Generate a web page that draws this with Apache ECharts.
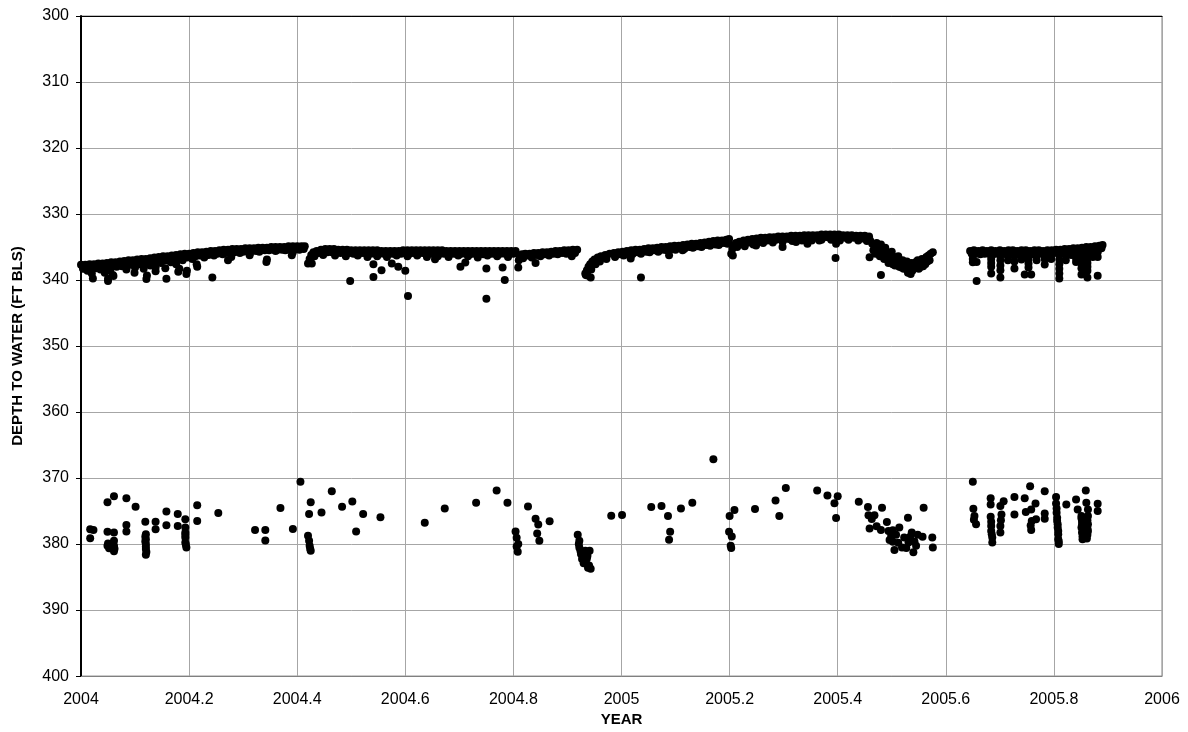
<!DOCTYPE html>
<html>
<head>
<meta charset="utf-8">
<script src="https://cdn.jsdelivr.net/npm/echarts@6/dist/echarts.min.js"></script>
<style>html,body{margin:0;padding:0;background:#fff}#c{width:1188px;height:732px}</style>
</head>
<body>
<div id="c"></div>
<script>
// Upper band (main water level trace), [year, depth ft bls]
const upperSeg2004a = [
[2004.000,337.7],[2004.008,337.7],[2004.016,337.6],[2004.024,337.6],[2004.032,337.5],[2004.040,337.5],[2004.048,337.4],[2004.056,337.3],[2004.064,337.3],[2004.072,337.2],[2004.080,337.1],[2004.088,337.0],[2004.096,337.0],[2004.104,336.9],[2004.112,336.8],[2004.120,336.8],[2004.128,336.7],[2004.136,336.6],[2004.144,336.5],[2004.152,336.4],[2004.160,336.4],[2004.168,336.3],[2004.176,336.2],[2004.184,336.1],[2004.192,336.0],[2004.200,336.0],[2004.208,335.9],[2004.216,335.8],[2004.224,335.8],[2004.232,335.7],[2004.240,335.6],[2004.248,335.6],[2004.256,335.5],[2004.264,335.4],[2004.272,335.4],[2004.280,335.3],[2004.288,335.3],[2004.296,335.3],[2004.304,335.2],[2004.312,335.2],[2004.320,335.2],[2004.328,335.1],[2004.336,335.1],[2004.344,335.1],[2004.352,335.0],[2004.360,335.0],[2004.368,335.0],[2004.376,335.0],[2004.384,334.9],[2004.392,334.9],[2004.400,334.9],[2004.408,334.9],[2004.414,334.9],
[2004.004,338.2],[2004.012,338.1],[2004.020,338.2],[2004.028,338.0],[2004.036,337.9],[2004.044,338.0],[2004.052,337.8],[2004.060,337.9],[2004.068,337.7],[2004.076,337.6],[2004.084,337.7],[2004.092,337.5],[2004.100,337.5],[2004.108,337.4],[2004.116,337.4],[2004.124,337.5],[2004.132,337.2],[2004.140,337.1],[2004.148,337.0],[2004.156,337.0],[2004.164,336.9],[2004.172,336.8],[2004.180,336.8],[2004.188,336.6],[2004.196,336.6],[2004.204,336.5],[2004.212,336.4],[2004.220,336.3],[2004.228,336.2],[2004.236,336.2],[2004.244,336.1],[2004.252,336.0],[2004.260,335.9],[2004.268,335.9],[2004.276,335.8],[2004.284,335.8],[2004.292,335.7],[2004.300,335.7],[2004.308,335.6],[2004.316,335.6],[2004.324,335.6],[2004.332,335.5],[2004.340,335.5],[2004.348,335.5],[2004.356,335.4],[2004.364,335.4],[2004.372,335.4],[2004.380,335.4],[2004.388,335.3],[2004.396,335.3],[2004.404,335.3],[2004.412,335.3],
[2004.004,338.3],[2004.012,338.6],[2004.020,339.0],[2004.028,338.2],[2004.036,338.4],[2004.044,338.9],[2004.050,339.8],[2004.054,338.6],[2004.060,339.4],[2004.066,338.0],[2004.076,337.9],[2004.084,338.4],[2004.092,337.7],[2004.100,338.1],[2004.108,337.6],[2004.116,338.3],[2004.122,339.3],[2004.128,337.8],[2004.138,338.1],[2004.148,337.4],[2004.156,338.2],[2004.166,337.3],[2004.176,337.6],[2004.182,338.3],[2004.188,337.0],[2004.196,338.6],[2004.206,336.8],[2004.214,337.6],[2004.228,336.6],[2004.246,336.3],[2004.262,336.1],[2004.278,336.5],[2004.294,335.9],[2004.312,336.0],[2004.330,335.7],[2004.344,336.9],[2004.360,335.6],[2004.378,335.5],[2004.392,335.8],[2004.404,335.4],
[2004.022,339.75],[2004.050,340.15],[2004.059,339.25],[2004.099,338.9],[2004.121,339.85],[2004.138,338.65],[2004.158,339.8],[2004.180,338.75],[2004.195,339.1],[2004.215,338.0],[2004.243,339.6],[2004.272,337.0],[2004.312,336.25],[2004.343,337.25],[2004.390,336.25]
];
const upperSeg2004b = [
[2004.420,337.5],[2004.423,336.8],[2004.426,336.2],[2004.430,335.8],[2004.436,335.6],[2004.444,335.4],[2004.452,335.3],[2004.460,335.3],[2004.468,335.3],[2004.476,335.4],[2004.484,335.4],[2004.492,335.4],[2004.500,335.5],[2004.508,335.5],[2004.516,335.5],[2004.524,335.5],[2004.532,335.5],[2004.540,335.5],[2004.548,335.5],[2004.556,335.6],[2004.564,335.6],[2004.572,335.6],[2004.580,335.6],[2004.588,335.6],[2004.596,335.5],[2004.604,335.5],[2004.612,335.5],[2004.620,335.5],[2004.628,335.5],[2004.636,335.5],[2004.644,335.5],[2004.652,335.5],[2004.660,335.5],[2004.668,335.5],[2004.676,335.6],[2004.684,335.6],[2004.692,335.6],[2004.700,335.6],[2004.708,335.6],[2004.716,335.6],[2004.724,335.6],[2004.732,335.6],[2004.740,335.6],[2004.748,335.6],[2004.756,335.6],[2004.764,335.6],[2004.772,335.6],[2004.780,335.6],[2004.788,335.6],[2004.796,335.6],[2004.804,335.6],
[2004.440,335.9],[2004.448,335.8],[2004.456,335.8],[2004.464,335.8],[2004.472,335.9],[2004.480,335.9],[2004.488,335.9],[2004.496,335.9],[2004.504,336.0],[2004.512,336.0],[2004.520,335.9],[2004.528,336.0],[2004.536,336.0],[2004.544,336.0],[2004.552,336.0],[2004.560,336.0],[2004.568,336.1],[2004.576,336.0],[2004.584,336.0],[2004.592,336.0],[2004.600,335.9],[2004.608,336.0],[2004.616,335.9],[2004.624,336.0],[2004.632,335.9],[2004.640,336.0],[2004.648,336.0],[2004.656,335.9],[2004.664,336.0],[2004.672,336.0],[2004.680,336.0],[2004.688,336.0],[2004.696,336.1],[2004.704,336.0],[2004.712,336.0],[2004.720,336.1],[2004.728,336.0],[2004.736,336.0],[2004.744,336.1],[2004.752,336.0],[2004.760,336.0],[2004.768,336.1],[2004.776,336.0],[2004.784,336.0],[2004.792,336.1],[2004.800,336.0],
[2004.432,336.4],[2004.448,336.2],[2004.470,336.3],[2004.490,336.4],[2004.512,336.3],[2004.530,336.5],[2004.548,336.4],[2004.566,336.5],[2004.584,336.3],[2004.604,336.4],[2004.622,336.3],[2004.640,336.5],[2004.660,336.4],[2004.680,336.5],[2004.698,336.3],[2004.716,336.4],[2004.734,336.6],[2004.752,336.3],[2004.770,336.4],[2004.790,336.5],
[2004.427,337.5],[2004.498,340.15],[2004.541,339.55],[2004.541,337.6],[2004.556,338.5],[2004.575,337.5],[2004.587,338.0],[2004.600,338.6],[2004.605,342.4],[2004.655,336.85],[2004.702,338.0],[2004.711,337.35],[2004.750,338.25],[2004.750,342.85],[2004.780,338.1],[2004.784,340.0],[2004.809,338.1]
];
const upperSeg2004c = [
[2004.810,337.0],[2004.812,336.5],[2004.816,336.1],[2004.822,336.0],[2004.830,336.0],[2004.838,335.9],[2004.846,335.9],[2004.854,335.8],[2004.862,335.8],[2004.870,335.7],[2004.878,335.6],[2004.886,335.6],[2004.894,335.5],[2004.902,335.5],[2004.910,335.4],[2004.918,335.4],
[2004.818,336.7],[2004.826,336.3],[2004.834,336.6],[2004.842,336.2],[2004.850,336.4],[2004.858,336.1],[2004.866,336.3],[2004.874,336.0],[2004.882,336.1],[2004.890,335.9],[2004.898,336.0],[2004.906,335.8],[2004.914,335.9],
[2004.841,337.4],[2004.908,336.4]
];
const upperSeg2005a = [
[2004.933,339.0],[2004.936,338.5],[2004.939,338.0],[2004.942,337.6],[2004.946,337.2],[2004.950,336.9],[2004.956,336.6],[2004.962,336.4],[2004.970,336.2],[2004.978,336.0],[2004.986,335.9],[2004.994,335.8],[2005.002,335.7],[2005.010,335.6],[2005.018,335.5],[2005.026,335.4],[2005.034,335.4],[2005.042,335.3],[2005.050,335.2],[2005.058,335.2],[2005.066,335.1],[2005.074,335.0],[2005.082,335.0],[2005.090,334.9],[2005.098,334.8],[2005.106,334.8],[2005.114,334.7],[2005.122,334.6],[2005.130,334.5],[2005.138,334.5],[2005.146,334.4],[2005.154,334.3],[2005.162,334.2],[2005.170,334.1],[2005.178,334.0],[2005.186,334.0],[2005.194,333.9],[2005.199,333.8],
[2004.990,336.2],[2004.998,336.1],[2005.006,336.0],[2005.014,335.9],[2005.022,335.9],[2005.030,335.8],[2005.038,335.7],[2005.046,335.7],[2005.054,335.6],[2005.062,335.5],[2005.070,335.5],[2005.078,335.4],[2005.086,335.4],[2005.094,335.3],[2005.102,335.2],[2005.110,335.2],[2005.118,335.1],[2005.126,335.0],[2005.134,335.0],[2005.142,334.9],[2005.150,334.8],[2005.158,334.7],[2005.166,334.6],[2005.174,334.6],[2005.182,334.5],[2005.190,334.4],
[2004.937,339.3],[2004.944,338.4],[2004.952,337.6],[2004.960,337.2],[2004.972,336.8],[2004.988,336.5],[2005.004,336.3],[2005.020,336.1],[2005.036,336.0],[2005.052,335.8],[2005.068,335.7],[2005.084,335.5],[2005.100,335.4],[2005.116,335.3],[2005.132,335.1],[2005.148,335.0],[2005.164,334.8],[2005.180,334.7],[2005.196,334.5],
[2004.934,339.25],[2004.943,339.6],[2005.017,336.75],[2005.036,339.6],[2005.088,336.25],[2005.113,335.5]
];
const upperSeg2005b = [
[2005.203,336.0],[2005.205,335.3],[2005.208,334.7],[2005.212,334.4],[2005.218,334.2],[2005.226,334.0],[2005.234,333.9],[2005.242,333.8],[2005.250,333.7],[2005.258,333.6],[2005.266,333.6],[2005.274,333.5],[2005.282,333.5],[2005.290,333.4],[2005.298,333.4],[2005.306,333.4],[2005.314,333.3],[2005.322,333.3],[2005.330,333.3],[2005.338,333.2],[2005.346,333.2],[2005.354,333.2],[2005.362,333.2],[2005.370,333.1],[2005.378,333.1],[2005.386,333.1],[2005.394,333.1],[2005.402,333.1],[2005.410,333.2],[2005.418,333.2],[2005.426,333.2],[2005.434,333.3],[2005.442,333.3],[2005.450,333.3],[2005.458,333.4],
[2005.222,334.5],[2005.230,334.4],[2005.238,334.3],[2005.246,334.2],[2005.254,334.1],[2005.262,334.0],[2005.270,334.0],[2005.278,333.9],[2005.286,333.9],[2005.294,333.8],[2005.302,333.8],[2005.310,333.8],[2005.318,333.7],[2005.326,333.7],[2005.334,333.7],[2005.342,333.6],[2005.350,333.6],[2005.358,333.6],[2005.366,333.6],[2005.374,333.5],[2005.382,333.5],[2005.390,333.5],[2005.398,333.5],[2005.406,333.5],[2005.414,333.6],[2005.422,333.6],[2005.430,333.6],[2005.438,333.7],[2005.446,333.7],[2005.454,333.7],
[2005.206,336.3],[2005.214,335.0],[2005.228,334.9],[2005.244,334.6],[2005.262,334.4],[2005.280,334.3],[2005.298,334.2],[2005.316,334.1],[2005.334,334.0],[2005.352,334.0],[2005.370,333.9],[2005.388,333.9],[2005.404,334.0],[2005.420,333.9],[2005.438,334.0],[2005.454,334.1],
[2005.249,334.75],[2005.298,335.0],[2005.323,334.25],[2005.344,334.5],[2005.366,334.0],[2005.396,336.65],[2005.397,334.5],[2005.459,336.55]
];
const upperSeg2005c = [
[2005.460,334.0],[2005.464,334.5],[2005.468,334.8],[2005.472,334.4],[2005.476,335.2],[2005.480,334.6],[2005.484,335.4],[2005.488,335.1],[2005.492,335.8],[2005.496,336.1],[2005.500,335.7],[2005.504,336.5],[2005.508,336.9],[2005.512,336.4],[2005.516,337.3],[2005.520,337.0],[2005.524,337.6],[2005.528,337.2],[2005.532,337.8],[2005.536,337.4],[2005.540,337.9],[2005.544,337.3],[2005.548,337.0],[2005.552,337.5],[2005.556,336.8],[2005.560,337.1],[2005.564,336.5],[2005.568,336.3],[2005.572,336.0],[2005.576,335.8],
[2005.466,335.5],[2005.474,335.9],[2005.482,336.2],[2005.490,336.6],[2005.498,337.1],[2005.506,337.8],[2005.514,338.0],[2005.522,338.3],[2005.530,338.2],[2005.538,338.6],[2005.546,338.1],[2005.554,338.0],[2005.562,337.6],[2005.570,337.0],
[2005.470,336.0],[2005.478,336.4],[2005.486,336.8],[2005.494,337.4],[2005.502,337.6],[2005.510,337.4],[2005.518,338.1],[2005.526,337.9],[2005.534,338.0],[2005.542,337.8],[2005.550,338.3],[2005.558,337.9],[2005.566,337.2],
[2005.480,339.25],[2005.535,339.1],[2005.530,338.9]
];
const upperSeg2005d = [
[2005.645,335.6],[2005.652,335.5],[2005.660,335.6],[2005.668,335.5],[2005.676,335.6],[2005.684,335.5],[2005.692,335.6],[2005.700,335.5],[2005.708,335.6],[2005.716,335.5],[2005.724,335.5],[2005.732,335.6],[2005.740,335.5],[2005.748,335.5],[2005.756,335.6],[2005.764,335.5],[2005.772,335.5],[2005.780,335.6],[2005.788,335.5],[2005.796,335.5],[2005.804,335.4],[2005.812,335.4],[2005.820,335.3],[2005.828,335.3],[2005.836,335.2],[2005.844,335.2],[2005.852,335.1],[2005.860,335.0],[2005.868,335.0],[2005.876,334.9],[2005.884,334.8],[2005.890,334.7],
[2005.648,336.0],[2005.656,336.0],[2005.664,336.1],[2005.672,336.0],[2005.680,336.0],[2005.688,336.1],[2005.696,336.0],[2005.704,336.0],[2005.712,336.1],[2005.720,336.0],[2005.728,336.0],[2005.736,336.1],[2005.744,336.0],[2005.752,336.0],[2005.760,336.1],[2005.768,336.0],[2005.776,336.0],[2005.784,336.1],[2005.792,336.0],[2005.800,335.9],[2005.808,335.9],[2005.816,335.8],[2005.824,335.8],[2005.832,335.7],[2005.840,335.7],[2005.848,335.6],[2005.856,335.5],[2005.864,335.5],[2005.872,335.4],[2005.880,335.3],[2005.888,335.2],
[2005.650,336.2],[2005.650,336.8],[2005.650,337.3],[2005.657,337.25],[2005.657,340.15],
[2005.684,336.2],[2005.684,336.8],[2005.684,337.4],[2005.684,338.0],[2005.684,339.0],
[2005.701,336.3],[2005.701,337.0],[2005.701,337.8],[2005.701,338.5],[2005.701,339.6],
[2005.715,336.3],[2005.715,337.0],[2005.727,336.4],[2005.727,337.2],[2005.727,338.25],
[2005.740,336.3],[2005.740,336.9],[2005.746,339.15],
[2005.753,336.2],[2005.753,336.8],[2005.753,337.5],[2005.753,338.1],[2005.758,339.15],
[2005.768,336.3],[2005.768,337.0],[2005.783,336.2],[2005.783,336.8],[2005.783,337.65],
[2005.795,336.2],[2005.795,336.8],
[2005.810,336.2],[2005.810,336.9],[2005.810,337.6],[2005.810,338.3],[2005.810,339.0],[2005.810,339.75],
[2005.822,336.1],[2005.822,337.0],[2005.832,336.2],
[2005.841,336.0],[2005.841,336.7],[2005.841,337.25],
[2005.851,336.0],[2005.851,336.8],[2005.851,337.5],[2005.851,338.2],[2005.851,339.15],
[2005.862,336.0],[2005.862,336.7],[2005.862,337.4],[2005.862,338.0],[2005.862,338.6],[2005.862,339.6],
[2005.872,335.9],[2005.872,336.5],[2005.881,335.8],[2005.881,336.5],[2005.881,339.35]
];
// Lower band readings
const lower2004 = [
[2004.017,379.1],[2004.017,377.75],[2004.023,377.85],[2004.049,373.65],[2004.049,378.15],[2004.049,380.25],[2004.052,380.65],[2004.050,379.9],
[2004.061,372.75],[2004.061,378.25],[2004.061,379.5],[2004.061,380.25],[2004.061,381.1],[2004.062,380.7],
[2004.084,373.05],[2004.084,377.1],[2004.084,378.1],[2004.101,374.35],
[2004.119,376.6],[2004.120,378.5],[2004.120,379.25],[2004.120,380.0],[2004.120,380.75],[2004.120,381.6],[2004.121,381.2],[2004.119,378.9],[2004.119,379.6],[2004.120,380.4],
[2004.138,376.6],[2004.138,377.75],[2004.158,375.05],[2004.158,377.15],[2004.179,375.45],[2004.179,377.25],
[2004.193,376.25],[2004.193,377.5],[2004.193,378.25],[2004.193,379.0],[2004.193,379.75],[2004.195,380.5],[2004.194,380.1],[2004.193,378.6],
[2004.215,374.1],[2004.215,376.5],[2004.254,375.3],[2004.322,377.85],[2004.341,377.85],[2004.341,379.45],[2004.369,374.55],[2004.392,377.7],
[2004.406,370.55],[2004.420,378.75],[2004.422,379.5],[2004.423,380.25],[2004.425,381.0],[2004.424,380.7],[2004.422,375.45],[2004.425,373.65],
[2004.445,375.2],[2004.464,372.0],[2004.483,374.35],[2004.502,373.55],[2004.509,378.1],[2004.522,375.45],[2004.554,375.95],[2004.636,376.75],
[2004.673,374.6],[2004.731,373.75],[2004.769,371.9],[2004.789,373.75],
[2004.804,378.1],[2004.806,379.05],[2004.809,380.0],[2004.806,380.35],[2004.808,381.15],
[2004.827,374.3],[2004.841,376.15],[2004.846,377.05],[2004.844,378.4],[2004.848,379.5],[2004.867,376.55],
[2004.919,378.6],[2004.922,379.5],[2004.922,380.5],[2004.925,381.5],[2004.927,382.25],[2004.934,382.75],[2004.940,383.25],[2004.941,381.0],[2004.937,381.75],[2004.933,381.0],[2004.943,383.75],[2004.930,382.9],[2004.938,383.6],[2004.924,381.0],[2004.921,380.0],[2004.936,382.2]
];
const lower2005 = [
[2004.981,375.7],[2005.001,375.6],[2005.055,374.4],[2005.074,374.25],[2005.086,375.75],[2005.090,378.15],[2005.088,379.35],
[2005.110,374.6],[2005.131,373.75],[2005.170,367.15],
[2005.200,375.75],[2005.209,374.85],[2005.199,378.15],[2005.204,378.85],[2005.202,380.25],[2005.203,380.6],
[2005.247,374.7],[2005.285,373.4],[2005.292,375.75],[2005.304,371.5],
[2005.362,371.9],[2005.381,372.65],[2005.394,373.8],[2005.400,372.75],[2005.397,376.05],
[2005.439,373.6],[2005.456,374.4],[2005.457,375.65],[2005.468,375.65],[2005.482,374.5],[2005.459,377.65],[2005.480,377.85],[2005.463,376.2],[2005.472,377.3],
[2005.491,376.65],[2005.494,378.0],[2005.499,378.75],[2005.502,379.65],[2005.505,380.9],[2005.514,377.5],[2005.519,380.5],[2005.523,379.0],
[2005.530,376.0],[2005.531,379.75],[2005.537,378.25],[2005.540,381.25],[2005.545,380.25],[2005.557,378.9],[2005.559,374.5],[2005.575,379.0],[2005.576,380.5],
[2005.496,379.4],[2005.508,378.6],[2005.512,379.8],[2005.527,380.6],[2005.534,378.9],[2005.542,379.6],[2005.548,378.6],[2005.502,377.9],
[2005.650,370.55],[2005.651,374.65],[2005.653,375.75],[2005.656,377.0],[2005.652,376.3],
[2005.683,373.05],[2005.683,374.0],[2005.683,375.85],[2005.684,377.25],[2005.684,378.0],[2005.686,379.0],[2005.686,379.75],[2005.685,378.5],[2005.684,376.6],
[2005.701,374.25],[2005.703,375.5],[2005.701,377.25],[2005.701,378.25],[2005.702,376.4],[2005.707,373.5],
[2005.727,372.85],[2005.727,375.5],[2005.746,373.05],[2005.748,375.15],[2005.756,371.25],[2005.758,374.75],[2005.759,376.5],[2005.758,377.85],[2005.757,377.2],[2005.766,373.85],[2005.767,376.25],
[2005.783,372.0],[2005.783,375.35],[2005.783,376.15],
[2005.804,372.85],[2005.804,373.85],[2005.805,375.25],[2005.806,376.5],[2005.807,377.5],[2005.808,378.5],[2005.808,379.25],[2005.809,380.0],[2005.806,376.0],[2005.807,377.0],[2005.808,378.0],[2005.809,379.6],[2005.805,374.6],
[2005.823,374.0],[2005.841,373.25],[2005.844,374.75],[2005.859,371.9],[2005.860,373.75],
[2005.851,375.75],[2005.852,376.5],[2005.851,377.5],[2005.852,378.25],[2005.853,379.25],[2005.852,377.0],[2005.853,378.8],[2005.851,376.1],
[2005.863,374.75],[2005.863,375.75],[2005.863,377.0],[2005.863,378.0],[2005.861,379.15],[2005.862,376.4],[2005.862,377.6],[2005.862,378.6],
[2005.881,373.9],[2005.881,375.0]
];
const yTicks = [300,310,320,330,340,350,360,370,380,390,400];

const allPoints = [].concat(upperSeg2004a, upperSeg2004b, upperSeg2004c, upperSeg2005a, upperSeg2005b, upperSeg2005c, upperSeg2005d, lower2004, lower2005);

const chart = echarts.init(document.getElementById('c'), null, {renderer: 'canvas'});
const FONT = '"Liberation Sans", Arial, sans-serif';
chart.setOption({
  animation: false,
  backgroundColor: '#ffffff',
  grid: {left: 81, right: 26, top: 16, bottom: 51, show: true, borderColor: '#808080', borderWidth: 1},
  xAxis: [{
    type: 'value', min: 2004, max: 2006, interval: 0.2,
    name: 'YEAR', nameLocation: 'middle', nameGap: 35,
    nameTextStyle: {fontFamily: FONT, fontWeight: 'bold', fontSize: 15, color: '#000'},
    axisLine: {show: true, onZero: false, lineStyle: {color: '#808080', width: 1}},
    axisTick: {show: false},
    axisLabel: {fontFamily: FONT, fontSize: 16, color: '#000', margin: 15,
      formatter: v => String(+v.toFixed(1))},
    splitLine: {show: true, lineStyle: {color: '#a6a6a6', width: 1}}
  }, {
    type: 'value', position: 'top', min: 2004, max: 2006,
    axisLine: {show: true, lineStyle: {color: '#000', width: 1}},
    axisTick: {show: false}, axisLabel: {show: false}, splitLine: {show: false}
  }],
  yAxis: {
    type: 'value', inverse: true, min: 300, max: 400, interval: 10,
    name: 'DEPTH TO WATER (FT BLS)', nameLocation: 'middle', nameGap: 56, nameRotate: 90,
    nameTextStyle: {fontFamily: FONT, fontWeight: 'bold', fontSize: 15, color: '#000'},
    axisLine: {show: true, lineStyle: {color: '#000', width: 2}},
    axisTick: {show: true, inside: false, length: 5, lineStyle: {color: '#000'}},
    axisLabel: {fontFamily: FONT, fontSize: 16, color: '#000', margin: 12,
      formatter: v => yTicks.includes(v) ? String(v) : ''},
    splitLine: {show: true, lineStyle: {color: '#a6a6a6', width: 1}}
  },
  series: [{
    type: 'scatter', xAxisIndex: 0, symbol: 'circle', symbolSize: 8,
    itemStyle: {color: '#000', opacity: 1},
    data: allPoints
  }]
});
</script>
</body>
</html>
